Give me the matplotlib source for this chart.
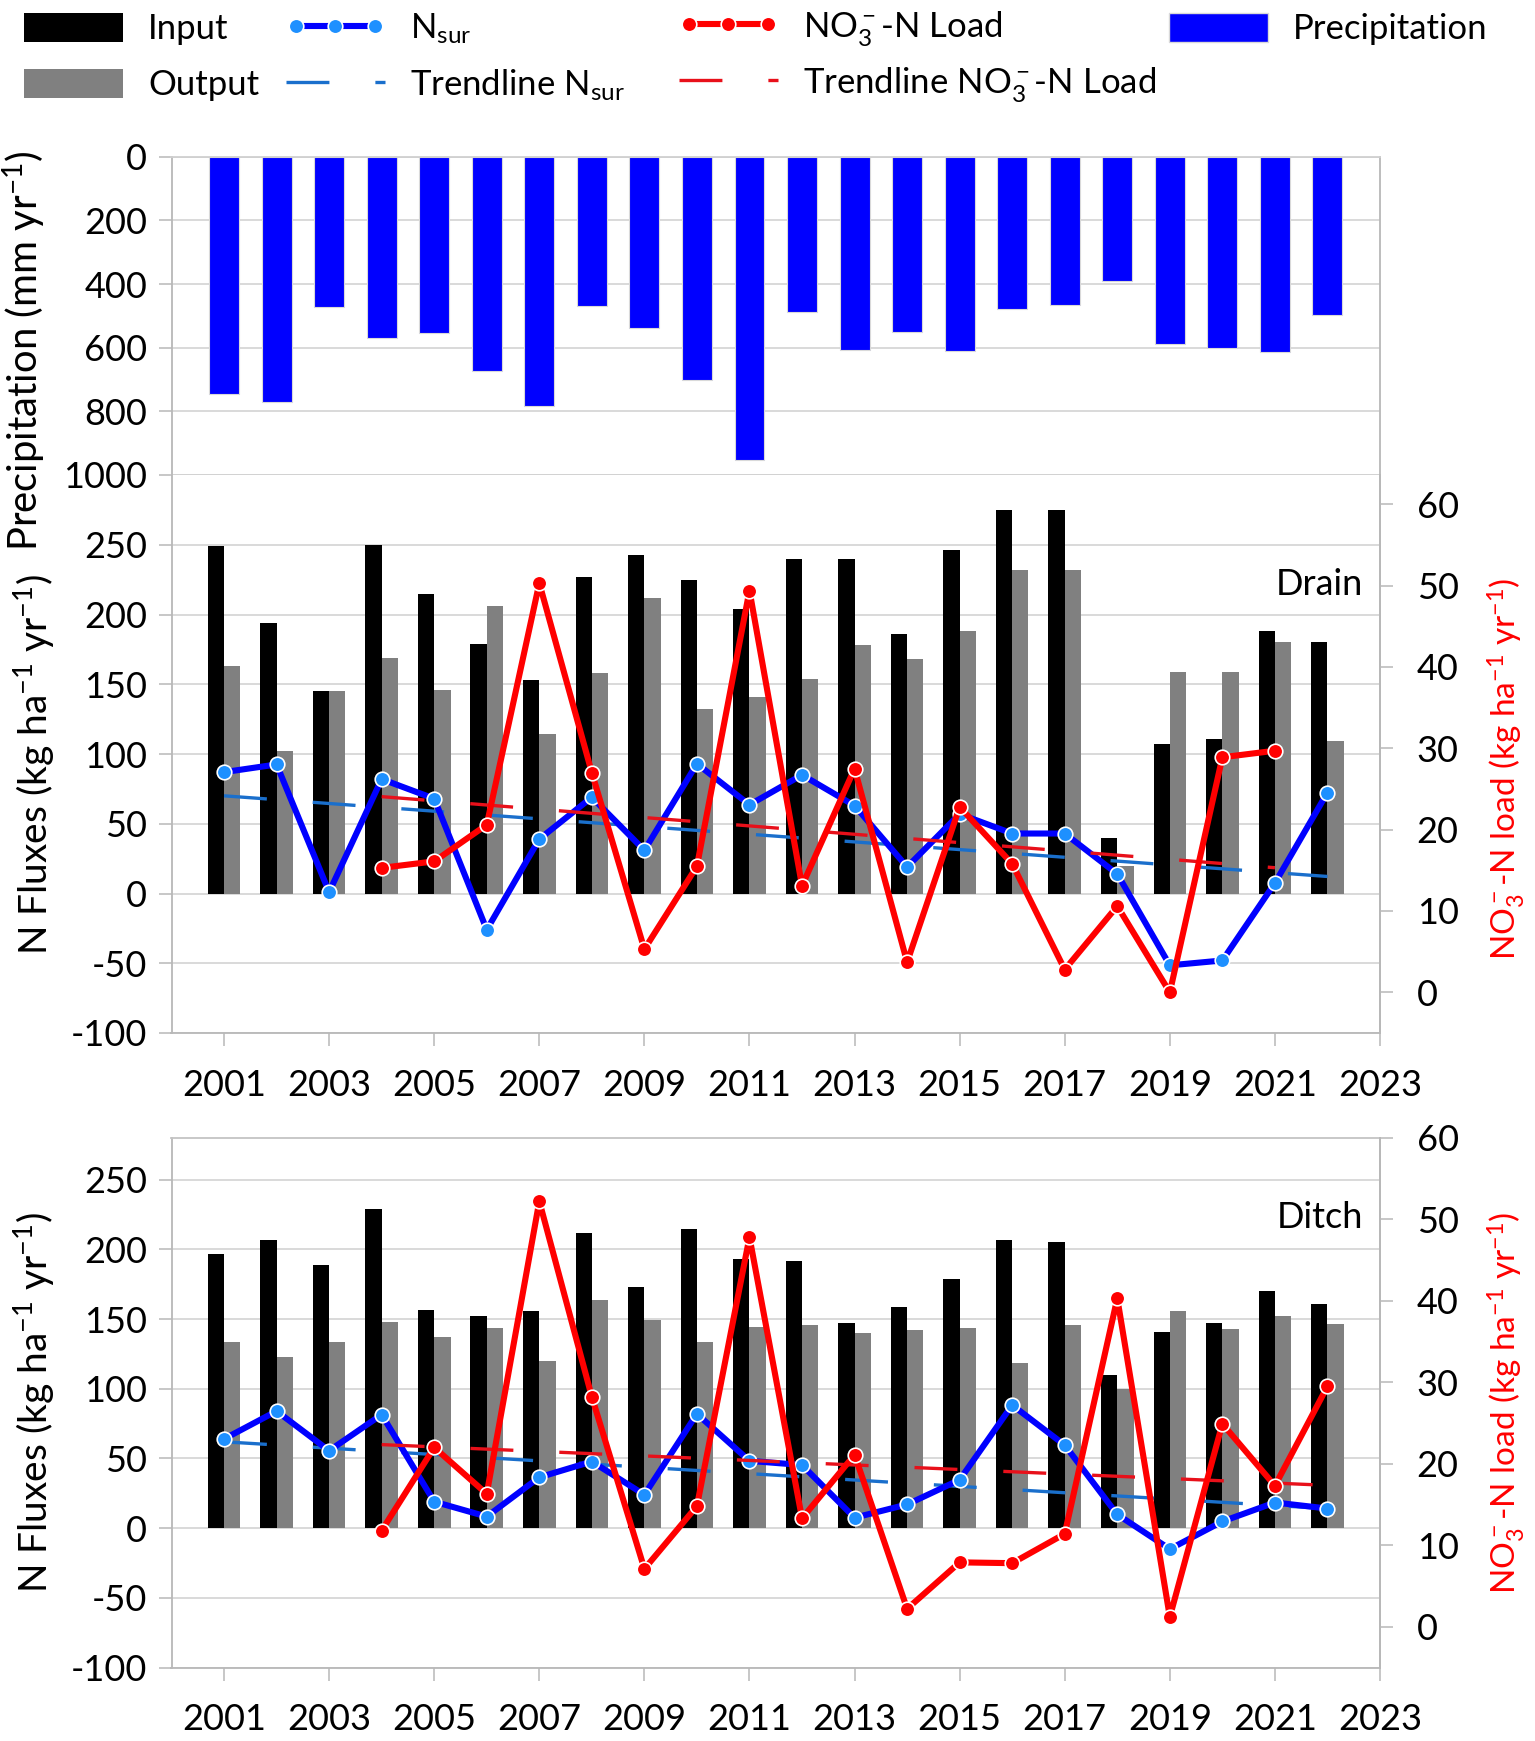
import numpy as np
import matplotlib
matplotlib.use('Agg')
import matplotlib.pyplot as plt
from matplotlib.lines import Line2D
from matplotlib.patches import Patch

plt.rcParams['font.family'] = ['Lato', 'DejaVu Sans']
plt.rcParams['mathtext.fontset'] = 'custom'
plt.rcParams['mathtext.rm'] = 'Lato'
plt.rcParams['mathtext.it'] = 'Lato:italic'
plt.rcParams['mathtext.bf'] = 'Lato:bold'
plt.rcParams['mathtext.default'] = 'regular'
plt.rcParams['axes.unicode_minus'] = False

# data
years = np.arange(2001, 2023)
precip = [746, 771, 473, 569, 554, 674, 782, 468, 537, 703, 953,
          487, 608, 551, 611, 477, 467, 389, 589, 600, 613, 497]

drain_in = [249, 194, 145, 250, 215, 179, 153, 227, 243, 225, 204,
            240, 240, 186, 246, 275, 275, 40, 107, 111, 188, 180]
drain_out = [163, 102, 145, 169, 146, 206, 114, 158, 212, 132, 141,
             154, 178, 168, 188, 232, 232, 20, 159, 159, 180, 109]
drain_nsur = [87, 92.5, 1, 82, 68, -26, 39, 69, 31, 93, 63.6,
              85, 63, 19, 57, 43, 43, 14, -51.5, -48, 7.5, 72.4]
drain_no3 = [np.nan, np.nan, np.nan, 15.3, 16.1, 20.6, 50.3, 27.0, 5.3, 15.5, 49.4,
             13.1, 27.5, 3.7, 22.8, 15.8, 2.8, 10.6, 0.0, 28.9, 29.7, np.nan]

ditch_in = [197, 207, 188.5, 229, 156.5, 152, 156, 211.6, 173, 215, 193,
            191.5, 147.5, 159, 178.7, 206.8, 205.6, 110, 141, 147.5, 170.4, 160.5]
ditch_out = [133.6, 123, 133.4, 147.7, 137.4, 143.9, 119.8, 163.8, 149.5, 133.4, 144.4,
             146, 140.2, 142.4, 143.9, 118.8, 145.7, 100.2, 156, 142.7, 152.2, 146.5]
ditch_nsur = [64, 84, 55.6, 81.5, 19, 8.3, 36.5, 47.8, 24, 82, 48.3,
              45.3, 7.5, 17, 34.7, 88.3, 59.6, 9.8, -15, 4.8, 18.4, 14.1]
ditch_no3 = [np.nan, np.nan, np.nan, 11.8, 22.0, 16.3, 52.2, 28.2, 7.1, 14.8, 47.8,
             13.3, 21.1, 2.2, 7.9, 7.8, 11.4, 40.3, 1.2, 24.9, 17.3, 29.5]

xtick_years = np.arange(2001, 2024, 2)

GRID = '#D0D0D0'
SPINE = '#B8B8B8'
BLUE = '#0000FF'
BLUE_MK = '#1E90FF'
RED = '#FF0000'
TREND_BLUE = '#1A6FCC'
TREND_RED = '#E8101A'
LW_LINE = 4.4
MS = 10.5
LW_TREND = 2.4
DASH = (30.9 / LW_TREND, 33.1 / LW_TREND)
TICK_FS = 26
LABEL_FS = 28

W, H = 1535, 1741
fig = plt.figure(figsize=(W / 100, H / 100), dpi=100)
left, width = 171.5 / W, 1208.5 / W
ax_p = fig.add_axes([left, 1 - 475 / H, width, 318.3 / H])
ax_d = fig.add_axes([left, 1 - 1033 / H, width, 558 / H])
ax_c = fig.add_axes([left, 1 - 1667.5 / H, width, 529.8 / H])


def base_style(ax):
    ax.set_xlim(2000, 2023)
    ax.set_axisbelow(True)
    ax.grid(axis='y', color=GRID, lw=1.1)
    ax.grid(axis='x', visible=False)
    for s in ax.spines.values():
        s.set_color(SPINE)
        s.set_linewidth(1.3)
    ax.tick_params(axis='y', direction='out', length=9.4, width=1.1, color=SPINE,
                   labelsize=TICK_FS, pad=8)
    ax.tick_params(axis='x', direction='out', length=9.4, width=1.1, color=SPINE,
                   labelsize=TICK_FS, pad=16.5)


# precipitation panel
base_style(ax_p)
ax_p.bar(years, precip, width=0.57, color=BLUE, edgecolor='#D9D9D9', linewidth=0.8, zorder=2)
ax_p.set_ylim(1000, 0)
ax_p.set_yticks(range(0, 1001, 200))
ax_p.set_xticks([])
ax_p.spines['top'].set_color(GRID)
ax_p.spines['bottom'].set_color(GRID)
ax_p.spines['bottom'].set_linewidth(1.1)
ax_p.set_ylabel('Precipitation (mm yr$^{-1}$)', fontsize=LABEL_FS + 0.8)
ax_p.yaxis.set_label_coords(-0.1022, 0.39)


def flux_panel(ax, n_in, n_out, nsur, no3, name, name_y, rlim, top_spine, llabel_y, rlabel_y):
    base_style(ax)
    w = 0.31
    ax.bar(years - w / 2, n_in, width=w, color='black', zorder=2)
    ax.bar(years + w / 2, n_out, width=w, color='#808080', zorder=2)

    c = np.polyfit(years, nsur, 1)
    ax.plot(years, np.polyval(c, years), color=TREND_BLUE, lw=LW_TREND,
            dashes=DASH, dash_capstyle='butt', zorder=3)
    ax.plot(years, nsur, color=BLUE, lw=LW_LINE, marker='o', ms=MS, mfc=BLUE_MK,
            mec='white', mew=1.2, zorder=4)

    ax.set_yticks(range(-100, 251, 50))
    ax.set_xticks(xtick_years)
    ax.spines['top'].set_visible(top_spine)
    if top_spine:
        ax.spines['top'].set_color('#C4C4C4')
    ax.set_ylabel('N Fluxes (kg ha$^{-1}$ yr$^{-1}$)', fontsize=LABEL_FS)
    ax.yaxis.set_label_coords(-0.0947, llabel_y)
    ax.text(0.986, name_y, name, transform=ax.transAxes, ha='right', va='center',
            fontsize=TICK_FS)

    ax2 = ax.twinx()
    ax2.set_xlim(2000, 2023)
    no3 = np.array(no3, dtype=float)
    ok = ~np.isnan(no3)
    c2 = np.polyfit(years[ok], no3[ok], 1)
    ax2.plot(years[ok], np.polyval(c2, years[ok]), color=TREND_RED, lw=LW_TREND,
             dashes=DASH, dash_capstyle='butt', zorder=3)
    ax2.plot(years[ok], no3[ok], color=RED, lw=LW_LINE, marker='o', ms=MS, mfc=RED,
             mec='white', mew=1.2, zorder=5)
    ax2.set_ylim(*rlim)
    ax2.set_yticks(range(0, 61, 10))
    for s in ['left', 'top', 'bottom']:
        ax2.spines[s].set_visible(False)
    ax2.spines['right'].set_color(SPINE)
    ax2.spines['right'].set_linewidth(1.3)
    ax2.tick_params(axis='y', direction='out', length=9.4, width=1.1, color=SPINE,
                    labelsize=TICK_FS, pad=17)
    ax2.set_ylabel('NO$_3^-$-N load (kg ha$^{-1}$ yr$^{-1}$)', color=RED, fontsize=24)
    ax2.yaxis.set_label_coords(1.0869, rlabel_y)
    return ax2


ax_d.set_ylim(-100, 300)
flux_panel(ax_d, drain_in, drain_out, drain_nsur, drain_no3, 'Drain', 0.803,
           (-5, 63.6), False, 0.482, 0.473)
ax_c.set_ylim(-100, 280.2)
flux_panel(ax_c, ditch_in, ditch_out, ditch_nsur, ditch_no3, 'Ditch', 0.85,
           (-5, 60), True, 0.5, 0.5)

# legend, one entry per block to match the Excel layout
h_in = Patch(facecolor='black')
h_out = Patch(facecolor='#808080')
h_nsur = Line2D([], [], color=BLUE, lw=LW_LINE, marker='o', ms=MS, mfc=BLUE_MK, mec='white', mew=1.2)
h_no3 = Line2D([], [], color=RED, lw=LW_LINE, marker='o', ms=MS, mfc=RED, mec='white', mew=1.2)
h_tn = Line2D([], [], color=TREND_BLUE, lw=LW_TREND, dashes=DASH, dash_capstyle='butt')
h_tr = Line2D([], [], color=TREND_RED, lw=LW_TREND, dashes=DASH, dash_capstyle='butt')
h_p = Patch(facecolor=BLUE, edgecolor='#D9D9D9')

entries = [
    (h_in, 'Input', 24, 29, 1),
    (h_out, 'Output', 24, 85, 1),
    (h_nsur, 'N$_{sur}$', 286, 29, 3),
    (h_tn, 'Trendline N$_{sur}$', 286, 85, 1),
    (h_no3, 'NO$_3^-$-N Load', 679, 29, 3),
    (h_tr, 'Trendline NO$_3^-$-N Load', 679, 85, 1),
    (h_p, 'Precipitation', 1169, 29, 1),
]
for h, lab, px, py, npts in entries:
    fig.legend([h], [lab], loc='center left', bbox_to_anchor=(px / W, 1 - py / H),
               frameon=False, fontsize=25, handlelength=2.85, handleheight=0.9,
               handletextpad=0.72, borderpad=0, borderaxespad=0, numpoints=npts)

fig.savefig('out.png', dpi=100)
